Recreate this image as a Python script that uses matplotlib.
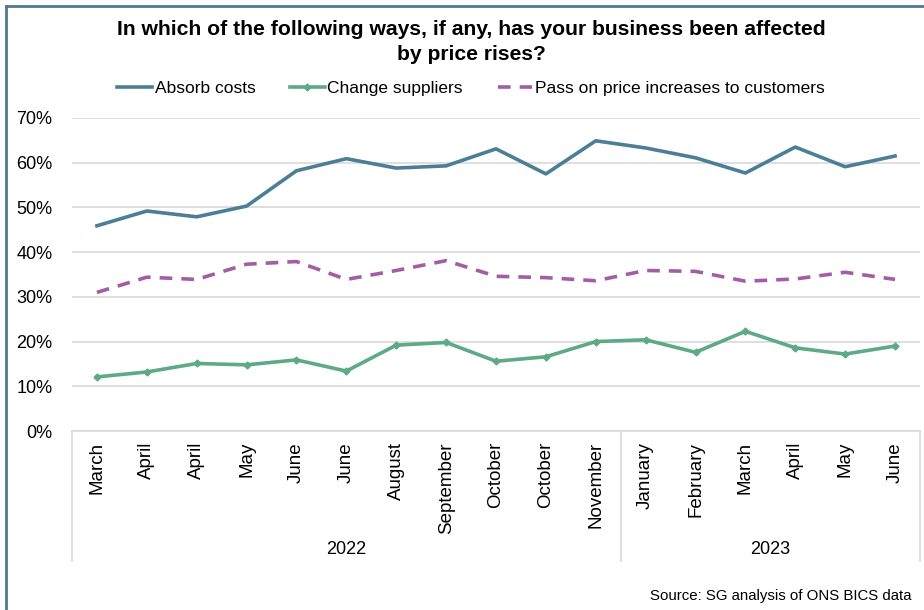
import numpy as np
import matplotlib.pyplot as plt
from matplotlib.lines import Line2D
from matplotlib.ticker import PercentFormatter

plt.rcParams['font.family'] = ['Liberation Sans', 'DejaVu Sans']

months = ['March', 'April', 'April', 'May', 'June', 'June', 'August', 'September',
          'October', 'October', 'November', 'January', 'February', 'March', 'April',
          'May', 'June']
years = ['2022', '2023']
year_counts = [11, 6]

absorb = [45.9, 49.2, 47.9, 50.3, 58.2, 60.9, 58.8, 59.3, 63.1, 57.5, 64.9,
          63.3, 61.1, 57.7, 63.5, 59.1, 61.5]
suppliers = [12.1, 13.2, 15.1, 14.8, 15.9, 13.4, 19.2, 19.8, 15.6, 16.6, 20.0,
             20.4, 17.6, 22.3, 18.6, 17.2, 19.0]
pass_on = [31.0, 34.4, 33.9, 37.3, 37.9, 33.9, 35.9, 38.1, 34.6, 34.3, 33.6,
           35.9, 35.7, 33.5, 34.0, 35.5, 33.9]

c_absorb = '#4C7F97'
c_supp = '#5EAA86'
c_pass = '#A35DA5'
grid_c = '#D9D9D9'

fig = plt.figure(figsize=(9.24, 6.10), dpi=100)
ax = fig.add_axes([72 / 924, 1 - 431 / 610, 848 / 924, 313 / 610])

x = np.arange(len(months))
ax.plot(x, absorb, color=c_absorb, lw=2.6, label='Absorb costs')
ax.plot(x, suppliers, color=c_supp, lw=2.6, marker='D', ms=3.5, label='Change suppliers')
ax.plot(x, pass_on, color=c_pass, lw=2.6, ls=(0, (3.5, 2.5)), label='Pass on price increases to customers')

ax.set_xlim(-0.5, len(months) - 0.5)
ax.set_ylim(0, 70)
ax.set_yticks(np.arange(0, 71, 10))
ax.yaxis.set_major_formatter(PercentFormatter(decimals=0))
ax.grid(axis='y', color=grid_c, lw=1.2)
ax.set_axisbelow(True)
for s in ['top', 'right', 'left']:
    ax.spines[s].set_visible(False)
ax.spines['bottom'].set_color(grid_c)
ax.spines['bottom'].set_linewidth(1.2)
ax.tick_params(axis='both', length=0, colors='#000000')
ax.tick_params(axis='y', pad=14, labelsize=13)
ax.tick_params(axis='x', pad=8, labelsize=13.5)
ax.set_xticks(x)
ax.set_xticklabels(months, rotation=90, va='top')

# year grouping on the category axis
tr = ax.get_xaxis_transform()
depth = -(561 - 431) / 313
start = -0.5
for yr, n in zip(years, year_counts):
    ax.add_line(Line2D([start, start], [0, depth], transform=tr, color=grid_c, lw=1.2, clip_on=False))
    ax.text(start + n / 2, -(549 - 431) / 313, yr, transform=tr, ha='center', va='center', fontsize=13)
    start += n
ax.add_line(Line2D([start, start], [0, depth], transform=tr, color=grid_c, lw=1.2, clip_on=False))

fig.text(471 / 924, 1 - 42 / 610,
         'In which of the following ways, if any, has your business been affected\nby price rises?',
         ha='center', va='center', fontsize=15.2, fontweight='bold', linespacing=1.35)

fig.legend(loc='center', bbox_to_anchor=(471 / 924, 1 - 88 / 610), ncol=3, frameon=False,
           fontsize=12.5, handlelength=2.0, handletextpad=0.15, columnspacing=2.0)

fig.text(912 / 924, 1 - 596 / 610, 'Source: SG analysis of ONS BICS data',
         ha='right', va='center', fontsize=10.8)

# chart frame (left and top edges visible)
fc = '#51788F'
fig.add_artist(Line2D([6 / 924, 6 / 924], [0, 1 - 6 / 610], color=fc, lw=2))
fig.add_artist(Line2D([6 / 924, 1], [1 - 6 / 610, 1 - 6 / 610], color=fc, lw=2))

fig.savefig('out.png', dpi=100)
